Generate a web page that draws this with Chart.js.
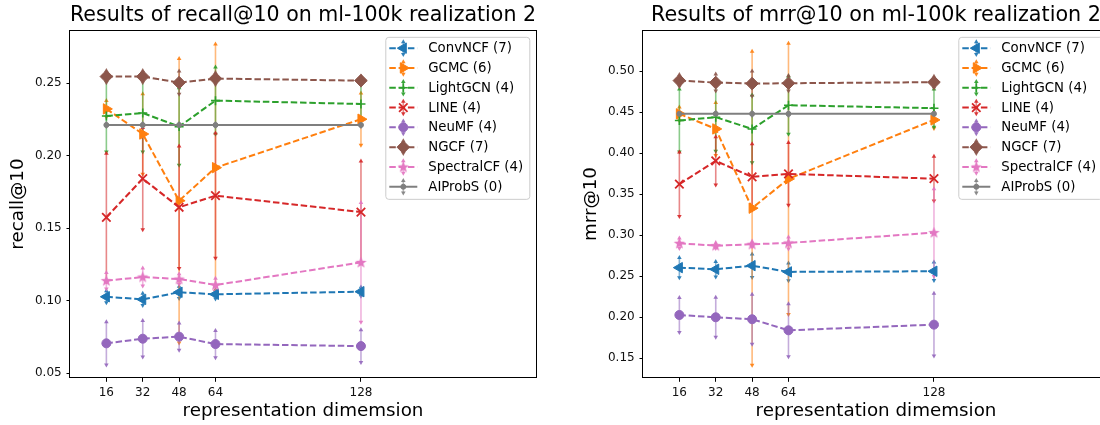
<!DOCTYPE html>
<html>
<head>
<meta charset="utf-8">
<script src="https://cdn.jsdelivr.net/npm/chart.js@4.4.0/dist/chart.umd.min.js"></script>
<style>
  html, body { margin: 0; padding: 0; background: #fff; }
  #wrap { position: relative; width: 1100px; height: 425px; overflow: hidden; }
  canvas { position: absolute; top: 0; width: 550px; height: 425px; }
  #recallChart { left: 0; }
  #mrrChart { left: 573px; }
</style>
</head>
<body>
<div id="wrap">
  <canvas id="recallChart" width="550" height="425"></canvas>
  <canvas id="mrrChart" width="550" height="425"></canvas>
</div>
<script>
// x values and series names
const dims = [16, 32, 48, 64, 128];
const methods = ['ConvNCF (7)', 'GCMC (6)', 'LightGCN (4)', 'LINE (4)', 'NeuMF (4)', 'NGCF (7)', 'SpectralCF (4)', 'AIProbS (0)'];

const recallTicks = [0.05, 0.10, 0.15, 0.20, 0.25];
const mrrTicks = [0.15, 0.20, 0.25, 0.30, 0.35, 0.40, 0.45, 0.50];

// recall@10 means, one row per method (same order as methods)
const recallMeans = [
  [0.1028, 0.1010, 0.1059, 0.1045, 0.1063],
  [0.2323, 0.2150, 0.1690, 0.1918, 0.2252],
  [0.2274, 0.2295, 0.2201, 0.2380, 0.2357],
  [0.1576, 0.1842, 0.1645, 0.1725, 0.1612],
  [0.0707, 0.0739, 0.0753, 0.0702, 0.0688],
  [0.2546, 0.2546, 0.2504, 0.2532, 0.2518],
  [0.1139, 0.1164, 0.1150, 0.1109, 0.1265],
  [0.2212, 0.2212, 0.2212, 0.2212, 0.2212]
];
const recallErrs = [
  [0.004, 0.004, 0.004, 0.003, 0.003],
  [0.0055, 0.0276, 0.0978, 0.085, 0.0178],
  [0.0246, 0.0267, 0.0265, 0.023, 0.0145],
  [0.044, 0.035, 0.042, 0.043, 0.035],
  [0.0147, 0.0124, 0.0092, 0.0092, 0.0111],
  [0.004, 0.004, 0.0078, 0.004, 0.003],
  [0.0055, 0.006, 0.0035, 0.0045, 0.041],
  [0.001, 0.001, 0.001, 0.001, 0.001]
];

// mrr@10
const mrrMeans = [
  [0.2605, 0.2585, 0.2629, 0.2553, 0.2561],
  [0.4480, 0.4296, 0.3330, 0.3687, 0.4406],
  [0.4398, 0.4439, 0.4296, 0.4585, 0.4549],
  [0.3622, 0.3906, 0.3711, 0.3748, 0.3690],
  [0.2028, 0.2000, 0.1976, 0.1841, 0.1910],
  [0.4885, 0.4861, 0.4849, 0.4853, 0.4866],
  [0.2902, 0.2873, 0.2890, 0.2906, 0.3032],
  [0.4480, 0.4480, 0.4480, 0.4480, 0.4480]
];
const mrrErrs = [
  [0.012, 0.009, 0.014, 0.0105, 0.011],
  [0.008, 0.032, 0.191, 0.165, 0.01],
  [0.038, 0.041, 0.041, 0.035, 0.023],
  [0.039, 0.029, 0.04, 0.038, 0.027],
  [0.021, 0.024, 0.030, 0.032, 0.038],
  [0.007, 0.01, 0.015, 0.009, 0.007],
  [0.006, 0.003, 0.003, 0.007, 0.053],
  [0.002, 0.002, 0.002, 0.002, 0.002]
];

const FONT = '"DejaVu Sans", sans-serif';
const colors = ['#1f77b4', '#ff7f0e', '#2ca02c', '#d62728', '#9467bd', '#8c564b', '#e377c2', '#7f7f7f'];

// filled star like matplotlib '*'
const starMarker = (function() {
  const c = document.createElement('canvas');
  c.width = 13; c.height = 13;
  const g = c.getContext('2d');
  g.fillStyle = '#e377c2';
  g.beginPath();
  for (let k = 0; k < 10; k++) {
    const r = k % 2 ? 2.5 : 6;
    const a = -Math.PI / 2 + k * Math.PI / 5;
    g.lineTo(6.5 + r * Math.cos(a), 6.8 + r * Math.sin(a));
  }
  g.closePath();
  g.fill();
  return c;
})();

const markers = [
  { style: 'triangle', rotation: 270, radius: 6, bw: 1 },
  { style: 'triangle', rotation: 90, radius: 6, bw: 1 },
  { style: 'cross', rotation: 0, radius: 4.5, bw: 1.6 },
  { style: 'crossRot', rotation: 0, radius: 6, bw: 1.8 },
  { style: 'circle', rotation: 0, radius: 4.5, bw: 1 },
  { style: 'rectRot', rotation: 0, radius: 6.3, bw: 1 },
  { style: starMarker, rotation: 0, radius: 6, bw: 1 },
  { style: 'circle', rotation: 0, radius: 2.5, bw: 1 }
];
const dashed = [true, true, true, true, true, true, true, false];

function capTriangle(ctx, x, y, dir) {
  ctx.beginPath();
  ctx.moveTo(x, y - dir * 2.8);
  ctx.lineTo(x - 2.3, y + dir * 1.2);
  ctx.lineTo(x + 2.3, y + dir * 1.2);
  ctx.closePath();
  ctx.fill();
}

// vertical error bars with arrow caps
const errorBarPlugin = {
  id: 'errorBars',
  beforeDatasetsDraw(chart) {
    const ctx = chart.ctx;
    const xs = chart.scales.x, ys = chart.scales.y;
    ctx.save();
    chart.data.datasets.forEach(ds => {
      ds.data.forEach((p, j) => {
        const e = ds.errors[j];
        const x = xs.getPixelForValue(p.x);
        const yTop = ys.getPixelForValue(p.y + e);
        const yBot = ys.getPixelForValue(p.y - e);
        ctx.globalAlpha = 0.55;
        ctx.strokeStyle = ds.borderColor;
        ctx.lineWidth = 1.6;
        ctx.beginPath();
        ctx.moveTo(x, yTop);
        ctx.lineTo(x, yBot);
        ctx.stroke();
        ctx.globalAlpha = 0.9;
        ctx.fillStyle = ds.borderColor;
        capTriangle(ctx, x, yTop, 1);
        capTriangle(ctx, x, yBot, -1);
      });
    });
    ctx.restore();
  }
};

// full box around the plot area
const framePlugin = {
  id: 'frame',
  afterDraw(chart) {
    const a = chart.chartArea, ctx = chart.ctx;
    ctx.save();
    ctx.strokeStyle = '#000';
    ctx.lineWidth = 1;
    ctx.strokeRect(Math.round(a.left) - 0.5, Math.round(a.top) + 0.5,
      Math.round(a.right - a.left) + 1, Math.round(a.bottom - a.top) - 1);
    ctx.restore();
  }
};

// matplotlib-like legend in the upper right corner
const boxLegendPlugin = {
  id: 'boxLegend',
  afterDraw(chart) {
    const ctx = chart.ctx, area = chart.chartArea;
    const w = 144, h = 162, rowH = 19.8;
    const x0 = area.right - 6.7 - w, y0 = area.top + 7;
    ctx.save();
    ctx.beginPath();
    if (ctx.roundRect) ctx.roundRect(x0 + 0.5, y0 + 0.5, w, h, 3);
    else ctx.rect(x0 + 0.5, y0 + 0.5, w, h);
    ctx.fillStyle = 'rgba(255,255,255,0.8)';
    ctx.fill();
    ctx.strokeStyle = '#cccccc';
    ctx.lineWidth = 1;
    ctx.stroke();

    chart.data.datasets.forEach((ds, i) => {
      const cy = y0 + 11.3 + i * rowH;
      const lx0 = x0 + 4, lx1 = x0 + 32, cx = (lx0 + lx1) / 2;
      ctx.strokeStyle = ds.borderColor;
      ctx.lineWidth = 2;
      ctx.setLineDash(ds.borderDash);
      ctx.beginPath();
      ctx.moveTo(lx0, cy);
      ctx.lineTo(lx1, cy);
      ctx.stroke();
      ctx.setLineDash([]);

      ctx.globalAlpha = 0.55;
      ctx.lineWidth = 1.6;
      ctx.beginPath();
      ctx.moveTo(cx, cy - 6);
      ctx.lineTo(cx, cy + 6);
      ctx.stroke();
      ctx.globalAlpha = 0.9;
      ctx.fillStyle = ds.borderColor;
      capTriangle(ctx, cx, cy - 6, 1);
      capTriangle(ctx, cx, cy + 6, -1);
      ctx.globalAlpha = 1;

      ctx.fillStyle = ds.pointBackgroundColor;
      ctx.strokeStyle = ds.pointBorderColor;
      ctx.lineWidth = ds.pointBorderWidth;
      Chart.helpers.drawPoint(ctx, {
        pointStyle: ds.pointStyle,
        rotation: ds.pointRotation,
        radius: ds.pointRadius,
        borderWidth: ds.pointBorderWidth
      }, cx, cy);

      ctx.fillStyle = '#000';
      ctx.font = '13.3px ' + FONT;
      ctx.textBaseline = 'middle';
      ctx.textAlign = 'left';
      ctx.fillText(ds.label, x0 + 43, cy + 0.5);
    });
    ctx.restore();
  }
};

function buildChart(id, means, errs, ticks, yMin, yMax, titleText, yLabel) {
  const datasets = methods.map((name, i) => ({
    label: name,
    data: dims.map((d, j) => ({ x: d, y: means[i][j] })),
    errors: errs[i],
    borderColor: colors[i],
    backgroundColor: colors[i],
    borderWidth: 2,
    borderDash: dashed[i] ? [6.5, 2.8] : [],
    pointStyle: markers[i].style,
    pointRotation: markers[i].rotation,
    pointRadius: markers[i].radius,
    pointBorderWidth: markers[i].bw,
    pointBackgroundColor: colors[i],
    pointBorderColor: colors[i],
    tension: 0,
    order: methods.length - i
  }));

  return new Chart(document.getElementById(id), {
    type: 'line',
    data: { datasets: datasets },
    options: {
      responsive: false,
      animation: false,
      layout: { padding: { left: 0, right: 14, top: 0, bottom: 0 } },
      plugins: {
        legend: { display: false },
        tooltip: { enabled: false },
        title: {
          display: true,
          text: titleText,
          fullSize: false,
          color: '#000',
          font: { family: FONT, size: 20.7, weight: 'normal' },
          padding: { top: 3, bottom: 2 }
        }
      },
      scales: {
        x: {
          type: 'linear',
          min: 0,
          max: 205,
          bounds: 'data',
          afterBuildTicks: s => { s.ticks = dims.map(v => ({ value: v })); },
          afterFit: s => { s.height = 46.7; },
          ticks: {
            color: '#111',
            font: { family: FONT, size: 12 },
            padding: 3.5,
            maxRotation: 0,
            autoSkip: false,
            callback: v => String(v)
          },
          grid: { display: true, drawOnChartArea: false, drawTicks: true, tickLength: 3.5, color: '#000', lineWidth: 1 },
          border: { display: false },
          title: {
            display: true,
            text: 'representation dimemsion',
            color: '#000',
            font: { family: FONT, size: 18.3 },
            padding: { top: 0, bottom: 3 }
          }
        },
        y: {
          type: 'linear',
          min: yMin,
          max: yMax,
          bounds: 'data',
          afterBuildTicks: s => { s.ticks = ticks.map(v => ({ value: v })); },
          afterFit: s => { s.width = 70; },
          ticks: {
            color: '#111',
            font: { family: FONT, size: 12 },
            padding: 4.8,
            autoSkip: false,
            callback: v => v.toFixed(2)
          },
          grid: { display: true, drawOnChartArea: false, drawTicks: true, tickLength: 3.5, color: '#000', lineWidth: 1 },
          border: { display: false },
          title: {
            display: true,
            text: yLabel,
            color: '#000',
            font: { family: FONT, size: 18.3 },
            padding: { top: 7.5, bottom: 0 }
          }
        }
      }
    },
    plugins: [errorBarPlugin, framePlugin, boxLegendPlugin]
  });
}

buildChart('recallChart', recallMeans, recallErrs, recallTicks, 0.0466, 0.2868,
  'Results of recall@10 on ml-100k realization 2', 'recall@10');
buildChart('mrrChart', mrrMeans, mrrErrs, mrrTicks, 0.1256, 0.5504,
  'Results of mrr@10 on ml-100k realization 2', 'mrr@10');
</script>
</body>
</html>
